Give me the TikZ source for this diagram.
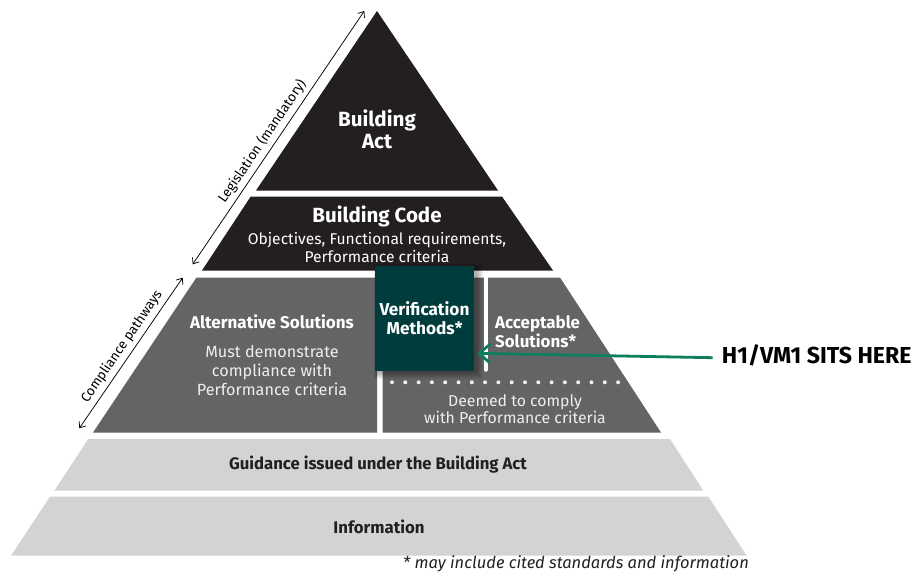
\documentclass[tikz,border=0pt]{standalone}
\usepackage{fontspec}
\setmainfont{Fira Sans}
\usetikzlibrary{arrows.meta}
\definecolor{pyrdark}{HTML}{231F20}
\definecolor{pyrmid}{HTML}{636466}
\definecolor{pyrlight}{HTML}{D1D3D4}
\definecolor{vmgreen}{HTML}{003C3C}
\definecolor{arrgreen}{HTML}{0E7E5E}
\definecolor{softwhite}{HTML}{EEEEEE}
\tikzset{
  lbl/.style={inner sep=0pt, align=center},
  dimarrow/.style={{Straight Barb[length=5pt,width=8pt]}-{Straight Barb[length=5pt,width=8pt]}, line width=0.75pt, black},
  sidelbl/.style={font=\fontsize{13.5}{15}\selectfont, sloped, above=4pt, inner sep=0pt},
  callout/.style={arrgreen, line width=2.8pt, -{Straight Barb[length=11pt,width=19pt]}},
}
\begin{document}
\begin{tikzpicture}[x=1pt,y=-1pt]
\useasboundingbox (0,0) rectangle (918,578);

% layers
\fill[pyrdark] (377,11) -- (498,190.5) -- (256,190.5) -- cycle;
\fill[pyrdark] (250.7,196.5) -- (502,196.5) -- (553,270.5) -- (202,270.5) -- cycle;
\fill[pyrmid] (196.5,277.5) -- (377,277.5) -- (377,432.5) -- (93,432.5) -- cycle;
\fill[pyrmid] (382.5,277.5) -- (560,277.5) -- (661,432.5) -- (382.5,432.5) -- cycle;
\fill[pyrlight] (88.3,439) -- (670,439) -- (703.3,490.7) -- (54.3,490.7) -- cycle;
\fill[pyrlight] (50,496.7) -- (708.3,496.7) -- (746.7,555.7) -- (11,555.7) -- cycle;

% white separator inside right part
\draw[white, line width=4.5pt, line cap=round] (485.8,277.5) -- (485.8,369.5);

% dotted line
\foreach \i in {0,...,17} \fill[softwhite] (392+\i*13.3,382.3) circle (2);

% shadow of green box
\foreach \s in {1,...,7} \fill[black, opacity=0.05] (375+3-\s*0.6,266+2-\s*0.6) rectangle (474+1.5+\s,370.7+1.5+\s);

% green box
\node[fill=vmgreen, minimum width=99pt, minimum height=104.7pt, inner sep=0pt, text=white, align=center,
      font=\bfseries\fontsize{17.2}{19}\selectfont] (vm) at (424.5,318.4) {Verification\\Methods*};

% texts
\node[lbl, text=white, font=\bfseries\fontsize{20.6}{22}\selectfont] (act) at (377,129.5) {Building\\Act};
\node[lbl, text=white, font=\bfseries\fontsize{20.5}{20}\selectfont] (code) at (377,216) {Building Code};
\node[lbl, text=white, font=\fontsize{15.6}{18.7}\selectfont] (codesub) at (377,247.5) {Objectives, Functional requirements,\\Performance criteria};
\node[lbl, text=white, font=\bfseries\fontsize{17}{19}\selectfont] (alt) at (272,322) {Alternative Solutions};
\node[lbl, text=softwhite, font=\fontsize{16.2}{19}\selectfont] (altsub) at (272,371) {Must demonstrate\\compliance with\\Performance criteria};
\node[lbl, text=white, align=left, anchor=west, font=\bfseries\fontsize{16.9}{18.7}\selectfont] (acc) at (495,331.5) {Acceptable\\Solutions*};
\node[lbl, text=softwhite, font=\fontsize{15.8}{14.5}\selectfont] (deem) at (515,409) {Deemed to comply\\with Performance criteria};
\node[lbl, text=pyrdark, font=\bfseries\fontsize{16.7}{18}\selectfont] (guid) at (378,465) {Guidance issued under the Building Act};
\node[lbl, text=pyrdark, font=\bfseries\fontsize{16.8}{18}\selectfont] (info) at (379,526.5) {Information};
\node[lbl, anchor=west, text=black, font=\bfseries\fontsize{23.1}{24}\selectfont] (h1) at (721.7,355.5) {H1/VM1 SITS HERE};
\node[lbl, anchor=east, text=pyrdark, font=\itshape\fontsize{16.5}{18}\selectfont] (foot) at (749,563.5) {* may include cited standards and information};

% side dimension arrows
\coordinate (legB) at (192.7,264.3);
\coordinate (legT) at (364.3,11);
\coordinate (comB) at (79.3,428.3);
\coordinate (comT) at (182.7,277.7);
\draw[dimarrow] (legB) -- node[sidelbl, pos=0.46] (leglbl) {Legislation (mandatory)} (legT);
\draw[dimarrow] (comB) -- node[sidelbl, pos=0.5] (comlbl) {Compliance pathways} (comT);

% callout arrow
\coordinate (tip) at (477,353.3);
\draw[callout] ([xshift=-9pt,yshift=-2.2pt]h1.west) -- (tip);
\end{tikzpicture}
\end{document}
